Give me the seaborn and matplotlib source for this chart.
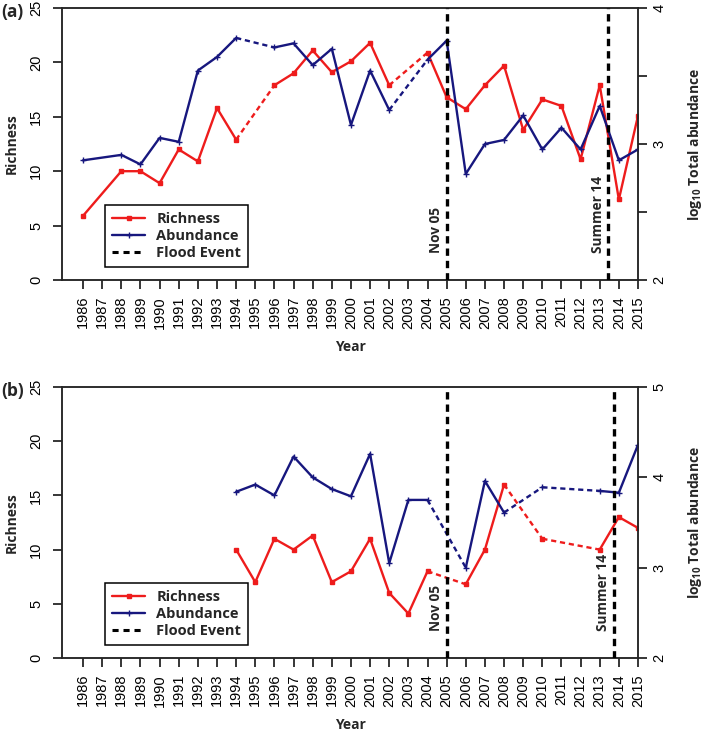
import numpy as np
import pandas as pd
import matplotlib.pyplot as plt
import seaborn as sns
from matplotlib.lines import Line2D

nan = np.nan
years = list(range(1986, 2016))

# panel (a)
rich_a = [5.9, nan, 10.0, 10.0, 8.9, 12.0, 10.9, 15.8, 12.9, nan,
          17.9, 19.0, 21.1, 19.1, 20.1, 21.8, 17.9, nan, 20.9, 16.8,
          15.7, 17.9, 19.7, 13.8, 16.6, 16.0, 11.1, 17.9, 7.4, 15.1]
abund_a = [2.88, nan, 2.92, 2.85, 3.045, 3.016, 3.54, 3.64, 3.78, nan,
           3.71, 3.74, 3.58, 3.70, 3.14, 3.54, 3.25, nan, 3.62, 3.76,
           2.78, 3.00, 3.03, 3.21, 2.96, 3.12, 2.96, 3.28, 2.88, 2.96]
solid_gaps_a = [(1986, 1988)]
floods_a = [2005.0, 2013.45]

# panel (b)
rich_b = [nan] * 8 + [10.0, 7.0, 11.0, 10.0, 11.3, 7.0, 8.0, 11.0, 6.0, 4.1,
                      8.0, nan, 6.8, 10.0, 16.0, nan, 11.0, nan, nan, 10.0, 13.0, 12.0]
abund_b = [nan] * 8 + [3.84, 3.92, 3.80, 4.23, 4.00, 3.87, 3.79, 4.26, 3.05, 3.75,
                       3.75, nan, 3.00, 3.96, 3.61, nan, 3.89, nan, nan, 3.85, 3.83, 4.36]
solid_gaps_b = []
floods_b = [2005.0, 2013.75]

flood_labels = ['Nov 05', 'Summer 14']

RED = '#EE1C1C'
BLUE = '#17177E'

sns.set_style('ticks')
plt.rcParams['font.family'] = ['Liberation Sans', 'DejaVu Sans']
plt.rcParams['mathtext.default'] = 'regular'
plt.rcParams['axes.linewidth'] = 1.1
for a in ('x', 'y'):
    plt.rcParams[f'{a}tick.major.width'] = 1.1
    plt.rcParams[f'{a}tick.major.size'] = 6.5
    plt.rcParams[f'{a}tick.color'] = 'black'
    plt.rcParams[f'{a}tick.labelsize'] = 10.5
BOLD = dict(family=['Open Sans', 'DejaVu Sans'], fontweight='bold')


def draw_series(ax, vals, solid_gaps, color, marker, ms):
    df = pd.DataFrame({'year': years, 'val': vals}).dropna()
    pts = list(zip(df['year'], df['val']))
    runs = [[pts[0]]]
    for p, q in zip(pts[:-1], pts[1:]):
        if q[0] - p[0] == 1 or (p[0], q[0]) in solid_gaps:
            runs[-1].append(q)
        else:
            seg = pd.DataFrame([p, q], columns=['year', 'val'])
            sns.lineplot(data=seg, x='year', y='val', ax=ax, color=color,
                         lw=1.7, linestyle=(0, (2.2, 1.6)), legend=False)
            runs.append([q])
    for run in runs:
        seg = pd.DataFrame(run, columns=['year', 'val'])
        sns.lineplot(data=seg, x='year', y='val', ax=ax, color=color, lw=1.7,
                     marker=marker, markersize=ms, markeredgecolor=color,
                     markeredgewidth=1.0, legend=False)


def panel(rect, label, rich, abund, solid_gaps, floods, ytop):
    ax = fig.add_axes(rect)
    ax2 = ax.twinx()
    draw_series(ax, rich, solid_gaps, RED, 's', 3.5)
    draw_series(ax2, abund, solid_gaps, BLUE, '+', 4)

    ax.set_xlim(1984.9, 2015)
    ax.set_ylim(0, 25)
    ax.set_yticks(range(0, 26, 5))
    ax.set_xticks(years)
    ax.set_xticklabels([str(y) for y in years], rotation=90)
    ax.tick_params(axis='y', labelrotation=90, pad=7)
    ax.tick_params(axis='x', pad=5)
    for t in ax.get_yticklabels():
        t.set_va('center')
    ax.set_xlabel('')
    ax.set_ylabel('')

    ax2.set_ylim(2, ytop)
    if ytop == 4:
        ax2.set_yticks([2, 2.5, 3, 3.5, 4])
        ax2.set_yticklabels(['2', '', '3', '', '4'])
    else:
        ax2.set_yticks([2, 3, 4, 5])
        ax2.set_yticklabels(['2', '3', '4', '5'])
    ax2.tick_params(axis='y', labelrotation=90, pad=4)
    for t in ax2.get_yticklabels():
        t.set_va('center')
    ax2.set_ylabel('')
    for s in ax2.spines.values():
        s.set_linewidth(1.1)

    for xf, txt in zip(floods, flood_labels):
        ax2.axvline(xf, color='black', lw=2.4, linestyle=(0, (2.2, 1.5)), zorder=5)
        ax2.text(xf - 0.2, 2 + 0.1 * (ytop - 2), txt, rotation=90, ha='right',
                 va='bottom', fontsize=9.8, zorder=6, **BOLD)

    handles = [Line2D([], [], color=RED, lw=1.7, marker='s', ms=3.5),
               Line2D([], [], color=BLUE, lw=1.7, marker='+', ms=4, mew=1),
               Line2D([], [], color='black', lw=2.2, linestyle=(0, (2.0, 1.6)))]
    leg = ax2.legend(handles, ['Richness', 'Abundance', 'Flood Event'],
                     loc='lower left', bbox_to_anchor=(0.075, 0.048),
                     fancybox=False, framealpha=1, edgecolor='black',
                     prop=dict(family='Open Sans', weight='bold', size=10.5),
                     handlelength=2.2, handletextpad=0.8, labelspacing=0.2,
                     borderpad=0.5, borderaxespad=0)
    leg.get_frame().set_linewidth(1.1)
    leg.set_zorder(10)

    y0, h = rect[1], rect[3]
    fig.text(0.002, y0 + h + 5 / 737, label, ha='left', va='top', fontsize=12.5, **BOLD)
    fig.text(0.017, y0 + h / 2, 'Richness', rotation=90, ha='center', va='center',
             fontsize=10, **BOLD)
    fig.text(0.980, y0 + h / 2, 'log$_{10}$ Total abundance', rotation=90,
             ha='center', va='center', fontsize=10, **BOLD)
    fig.text(0.494, y0 - 67 / 737, 'Year', ha='center', va='center',
             fontsize=10, **BOLD)
    return ax, ax2


fig = plt.figure(figsize=(7.09, 7.37), dpi=100)
panel([62 / 709, 1 - 280 / 737, 576 / 709, 272 / 737], '(a)',
      rich_a, abund_a, solid_gaps_a, floods_a, 4)
panel([62 / 709, 1 - 658 / 737, 576 / 709, 271 / 737], '(b)',
      rich_b, abund_b, solid_gaps_b, floods_b, 5)

fig.savefig('out.png', dpi=100)
